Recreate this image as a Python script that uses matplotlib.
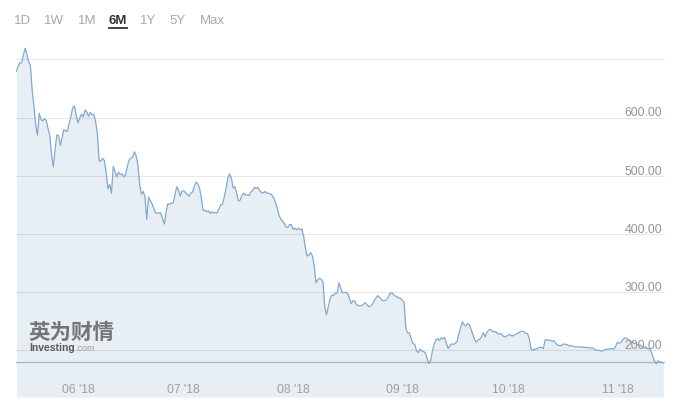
import numpy as np
import pandas as pd
import matplotlib
matplotlib.use('Agg')
import matplotlib.pyplot as plt
import matplotlib.dates as mdates
from matplotlib import transforms
from matplotlib.lines import Line2D

# ---- data (12-hourly closes) ----
prices = [
    679, 688, 694, 694, 707, 719, 709, 696, 689, 647,
    619, 587, 570, 607, 597, 594, 598, 595, 581, 569,
    536, 515, 545, 570, 569, 552, 565, 579, 577, 576,
    590, 602, 617, 620, 603, 591, 599, 606, 601, 613,
    609, 602, 609, 605, 605, 593, 572, 525, 525, 530,
    526, 505, 478, 485, 470, 516, 507, 498, 506, 502,
    503, 498, 502, 516, 527, 530, 532, 541, 534, 518,
    485, 468, 473, 464, 425, 463, 457, 452, 444, 436,
    436, 436, 436, 426, 417, 438, 452, 451, 453, 453,
    467, 481, 475, 465, 474, 474, 471, 468, 465, 470,
    472, 482, 489, 486, 478, 461, 440, 441, 438, 440,
    435, 438, 436, 437, 436, 444, 450, 451, 464, 478,
    496, 503, 496, 479, 481, 470, 457, 458, 466, 470,
    467, 467, 466, 472, 474, 480, 478, 480, 475, 471,
    470, 473, 470, 470, 469, 467, 462, 454, 445, 432,
    426, 422, 418, 412, 411, 416, 416, 408, 410, 407,
    410, 407, 409, 396, 376, 362, 364, 368, 362, 345,
    316, 321, 324, 322, 317, 274, 261, 275, 289, 295,
    294, 299, 298, 316, 307, 299, 299, 300, 297, 289,
    280, 285, 285, 278, 277, 276, 277, 279, 282, 278,
    275, 276, 279, 285, 290, 294, 291, 288, 285, 285,
    287, 291, 298, 299, 296, 293, 292, 290, 289, 286,
    282, 237, 230, 230, 220, 212, 210, 200, 196, 202,
    199, 198, 196, 187, 177, 182, 198, 210, 218, 220,
    217, 221, 220, 222, 212, 203, 208, 211, 210, 212,
    215, 228, 238, 249, 244, 242, 246, 244, 236, 227,
    218, 214, 218, 219, 224, 230, 223, 231, 235, 236,
    233, 232, 232, 229, 228, 229, 225, 223, 224, 226,
    227, 225, 225, 227, 229, 230, 232, 233, 232, 229,
    229, 220, 203, 200, 202, 202, 204, 205, 205, 203,
    218, 218, 217, 217, 216, 216, 212, 209, 208, 208,
    210, 211, 210, 209, 207, 208, 207, 206, 206, 206,
    205, 206, 205, 205, 205, 204, 204, 204, 202, 200,
    200, 200, 198, 200, 201, 202, 202, 203, 203, 202,
    207, 214, 212, 214, 218, 221, 221, 219, 217, 214,
    213, 212, 211, 209, 209, 206, 204, 206, 203, 203,
    199, 190, 182, 177, 182, 180, 179, 179,
]
start_time = '2018-05-14 12:00'
x_range = ('2018-05-14 10:00', '2018-11-14 12:00')
y_range = (119.8, 733.2)
baseline_value = 179.5

grid_values = [200, 300, 400, 500, 600, 700]
ytick_values = [200, 300, 400, 500, 600]
month_dates = ['2018-06-01', '2018-07-01', '2018-08-01',
               '2018-09-01', '2018-10-01', '2018-11-01']
month_labels = ["06 '18", "07 '18", "08 '18", "09 '18", "10 '18", "11 '18"]
range_buttons = ['1D', '1W', '1M', '6M', '1Y', '5Y', 'Max']
active_button = '6M'

# ---- figure ----
W, H = 676, 409
fig = plt.figure(figsize=(W / 100, H / 100), dpi=100)
fig.patch.set_facecolor('white')
FONT = 'Liberation Sans'

ax = fig.add_axes([16 / W, (H - 397) / H, (665 - 16) / W, (397 - 40) / H])
dates = pd.date_range(start_time, periods=len(prices), freq='12h')
ax.set_xlim(pd.Timestamp(x_range[0]), pd.Timestamp(x_range[1]))
ax.set_ylim(*y_range)
ax.axis('off')

ax.fill_between(dates, prices, y_range[0], color='#e7eef4', lw=0, zorder=1)
for g in grid_values:
    ax.axhline(g, color='black', alpha=0.09, lw=0.8, zorder=2)
ax.axhline(baseline_value, color='#b4b9be', lw=1.0, zorder=2)
ax.plot(dates, prices, color='#82a9cf', lw=0.9, zorder=3)

# y labels (right, just above gridlines)
ytrans = transforms.blended_transform_factory(ax.transAxes, ax.transData)
ytrans = transforms.offset_copy(ytrans, fig=fig, x=0, y=0.8, units='points')
for v in ytick_values:
    ax.text(0.9955, v, f'{v:.2f}', transform=ytrans, ha='right', va='baseline',
            fontsize=8.8, color='#959595', family=FONT, zorder=4)

# x labels inside the bottom band
xtrans = transforms.blended_transform_factory(ax.transData, ax.transAxes)
for d, lab in zip(month_dates, month_labels):
    ax.text(mdates.date2num(pd.Timestamp(d)), 0.0195, lab, transform=xtrans,
            ha='center', va='center', fontsize=8.8, color='#a0a0a0',
            family=FONT, zorder=4)

# range buttons
button_centers = [22.5, 54, 87.5, 118, 148.5, 177.5, 212]
for lab, cx in zip(range_buttons, button_centers):
    act = lab == active_button
    fig.text(cx / W, 1 - 20.5 / H, lab, ha='center', va='center',
             fontsize=9.5, family=FONT,
             color='#333333' if act else '#a8a8a8',
             weight='bold' if act else 'normal')
fig.add_artist(Line2D([109 / W, 127 / W], [1 - 27.8 / H] * 2,
                      color='#333333', lw=1.3, transform=fig.transFigure))

# watermark
fig.text(28 / W, 1 - 332 / H, '英为财情', family=['Noto Sans CJK SC', 'DejaVu Sans'],
         weight='bold', fontsize=15.5, color='#767676', ha='left', va='center',
         zorder=5)
t1 = fig.text(29 / W, 1 - 348 / H, 'Investing', family=FONT, weight='bold',
              fontsize=7.5, color='#5a5a5a', ha='left', va='center', zorder=5)
ax.annotate('.com', xy=(1, 0), xycoords=t1, xytext=(0.5, 0),
            textcoords='offset points', family=FONT, fontsize=6.5,
            color='#a0a0a0', ha='left', va='bottom', annotation_clip=False)

fig.savefig('out.png', dpi=100, facecolor='white')
